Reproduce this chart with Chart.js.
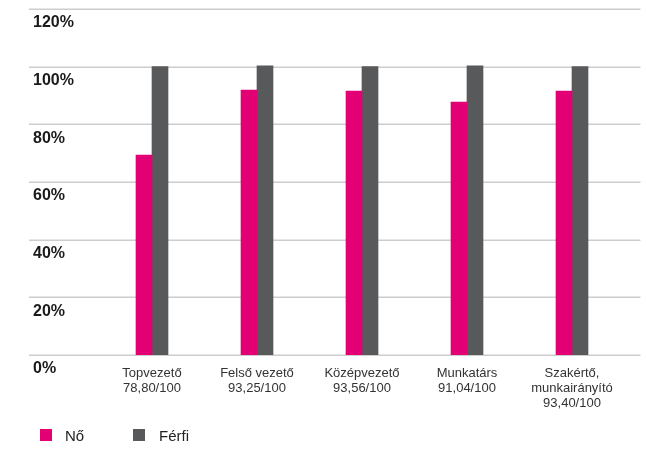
<!DOCTYPE html>
<html>
<head>
<meta charset="utf-8">
<script src="https://cdn.jsdelivr.net/npm/chart.js@4/dist/chart.umd.min.js"></script>
<style>
  html, body { margin: 0; padding: 0; background: #fff; }
  #wrap { position: relative; width: 646px; height: 450px; }
  #legend { position: absolute; left: 0; top: 0; width: 646px; height: 450px; pointer-events: none;
            font-family: "Liberation Sans", Arial, sans-serif; font-size: 15px; color: #222; }
  .lg-box { position: absolute; width: 12px; height: 12px; top: 429px; }
  .lg-txt { position: absolute; top: 427px; line-height: 18px; }
</style>
</head>
<body>
<div id="wrap">
  <canvas id="c" width="646" height="450"></canvas>
  <div id="legend"></div>
</div>
<script>
// ---- data ----
const categories = [
  ["Topvezető", "78,80/100"],
  ["Felső vezető", "93,25/100"],
  ["Középvezető", "93,56/100"],
  ["Munkatárs", "91,04/100"],
  ["Szakértő,", "munkairányító", "93,40/100"]
];
const seriesNames = ["Nő", "Férfi"];
const noValues = [69.3, 91.9, 91.5, 87.7, 91.5];
const ferfiValues = [100, 100.3, 100, 100.3, 100];
const yTicks = [0, 20, 40, 60, 80, 100, 120];

const colors = ["#e20074", "#58595b"];

const fullGrid = {
  id: 'fullGrid',
  beforeDatasetsDraw(chart) {
    const y = chart.scales.y;
    const ca = chart.chartArea;
    const ctx = chart.ctx;
    ctx.save();
    ctx.strokeStyle = '#cdcdcd';
    ctx.lineWidth = 1.5;
    y.ticks.forEach(t => {
      const py = Math.round(y.getPixelForValue(t.value)) + 0.25;
      ctx.beginPath();
      ctx.moveTo(ca.left - 70.5, py);
      ctx.lineTo(ca.right + 16, py);
      ctx.stroke();
    });
    ctx.restore();
  }
};

const chart = new Chart(document.getElementById('c'), {
  type: 'bar',
  data: {
    labels: categories,
    datasets: [
      { label: seriesNames[0], data: noValues, backgroundColor: colors[0], barThickness: 16 },
      { label: seriesNames[1], data: ferfiValues, backgroundColor: colors[1], barThickness: 16 }
    ]
  },
  options: {
    responsive: false,
    animation: false,
    layout: { padding: { left: 33, right: 21.5, top: 9, bottom: 28 } },
    plugins: {
      legend: { display: false },
      tooltip: { enabled: false }
    },
    scales: {
      x: {
        grid: { display: false, drawTicks: false },
        border: { display: false },
        ticks: {
          color: '#333',
          padding: 11,
          maxRotation: 0,
          autoSkip: false,
          font: { family: '"Liberation Sans", Arial, sans-serif', size: 13, lineHeight: 1.15 }
        },
        afterFit(scale) { scale.height = 67; }
      },
      y: {
        min: 0,
        max: 120,
        afterBuildTicks(scale) { scale.ticks = yTicks.map(v => ({ value: v })); },
        grid: { display: false, drawTicks: false },
        border: { display: false },
        ticks: {
          crossAlign: 'far',
          labelOffset: 14,
          color: '#1a1a1a',
          font: { family: '"Liberation Sans", Arial, sans-serif', size: 16, weight: 'bold' },
          callback: v => v + '%'
        },
        afterFit(scale) {
          scale.width = 66.5;
          scale.paddingTop = 0;
          scale.paddingBottom = 0;
        }
      }
    }
  },
  plugins: [fullGrid]
});

// HTML legend built from the chart's datasets
const legendEl = document.getElementById('legend');
const lgPos = [[40, 65], [133, 159]];
chart.data.datasets.forEach((ds, i) => {
  const b = document.createElement('div');
  b.className = 'lg-box';
  b.style.left = lgPos[i][0] + 'px';
  b.style.background = ds.backgroundColor;
  const t = document.createElement('div');
  t.className = 'lg-txt';
  t.style.left = lgPos[i][1] + 'px';
  t.textContent = ds.label;
  legendEl.appendChild(b);
  legendEl.appendChild(t);
});
</script>
</body>
</html>
